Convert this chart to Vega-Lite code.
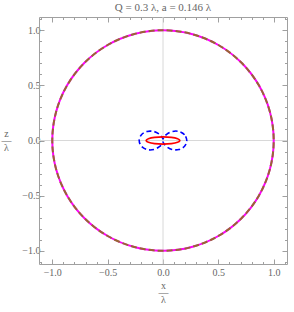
{
  "$schema": "https://vega.github.io/schema/vega-lite/v6.json",
  "width": 248,
  "height": 247,
  "autosize": {"type": "none"},
  "padding": {"left": 39, "top": 17, "right": 7, "bottom": 48},
  "title": {"text": "Q = 0.3 λ, a = 0.146 λ", "font": "Liberation Serif", "fontSize": 11, "fontWeight": "normal", "color": "#666666", "offset": 4},
  "config": {
    "view": {"stroke": null},
    "axis": {"labelFont": "Liberation Serif", "labelFontSize": 10, "labelColor": "#666666", "tickColor": "#a0a0a0", "domainColor": "#a0a0a0", "grid": false, "titleFont": "Liberation Serif", "titleFontSize": 10, "titleFontWeight": "normal", "titleColor": "#666666"}
  },
  "datasets": {
    "circle": [
      {"i": 0, "x": 1, "y": 0}, {"i": 1, "x": 0.9659, "y": 0.2588}, {"i": 2, "x": 0.866, "y": 0.5}, {"i": 3, "x": 0.7071, "y": 0.7071},
      {"i": 4, "x": 0.5, "y": 0.866}, {"i": 5, "x": 0.2588, "y": 0.9659}, {"i": 6, "x": 0, "y": 1}, {"i": 7, "x": -0.2588, "y": 0.9659},
      {"i": 8, "x": -0.5, "y": 0.866}, {"i": 9, "x": -0.7071, "y": 0.7071}, {"i": 10, "x": -0.866, "y": 0.5}, {"i": 11, "x": -0.9659, "y": 0.2588},
      {"i": 12, "x": -1, "y": 0}, {"i": 13, "x": -0.9659, "y": -0.2588}, {"i": 14, "x": -0.866, "y": -0.5}, {"i": 15, "x": -0.7071, "y": -0.7071},
      {"i": 16, "x": -0.5, "y": -0.866}, {"i": 17, "x": -0.2588, "y": -0.9659}, {"i": 18, "x": 0, "y": -1}, {"i": 19, "x": 0.2588, "y": -0.9659},
      {"i": 20, "x": 0.5, "y": -0.866}, {"i": 21, "x": 0.7071, "y": -0.7071}, {"i": 22, "x": 0.866, "y": -0.5}, {"i": 23, "x": 0.9659, "y": -0.2588}
    ],
    "peanut": [
      {"i": 0, "x": 0.215, "y": 0}, {"i": 1, "x": 0.1947, "y": 0.0522}, {"i": 2, "x": 0.1429, "y": 0.0825}, {"i": 3, "x": 0.0813, "y": 0.0813},
      {"i": 4, "x": 0.0325, "y": 0.0563}, {"i": 5, "x": 0.0074, "y": 0.0274}, {"i": 6, "x": 0, "y": 0.015}, {"i": 7, "x": -0.0074, "y": 0.0274},
      {"i": 8, "x": -0.0325, "y": 0.0563}, {"i": 9, "x": -0.0813, "y": 0.0813}, {"i": 10, "x": -0.1429, "y": 0.0825}, {"i": 11, "x": -0.1947, "y": 0.0522},
      {"i": 12, "x": -0.215, "y": 0}, {"i": 13, "x": -0.1947, "y": -0.0522}, {"i": 14, "x": -0.1429, "y": -0.0825}, {"i": 15, "x": -0.0813, "y": -0.0813},
      {"i": 16, "x": -0.0325, "y": -0.0563}, {"i": 17, "x": -0.0074, "y": -0.0274}, {"i": 18, "x": 0, "y": -0.015}, {"i": 19, "x": 0.0074, "y": -0.0274},
      {"i": 20, "x": 0.0325, "y": -0.0563}, {"i": 21, "x": 0.0813, "y": -0.0813}, {"i": 22, "x": 0.1429, "y": -0.0825}, {"i": 23, "x": 0.1947, "y": -0.0522}
    ],
    "ellipse": [
      {"i": 0, "x": 0.152, "y": 0}, {"i": 1, "x": 0.1316, "y": 0.016}, {"i": 2, "x": 0.076, "y": 0.0277}, {"i": 3, "x": 0, "y": 0.032},
      {"i": 4, "x": -0.076, "y": 0.0277}, {"i": 5, "x": -0.1316, "y": 0.016}, {"i": 6, "x": -0.152, "y": 0}, {"i": 7, "x": -0.1316, "y": -0.016},
      {"i": 8, "x": -0.076, "y": -0.0277}, {"i": 9, "x": 0, "y": -0.032}, {"i": 10, "x": 0.076, "y": -0.0277}, {"i": 11, "x": 0.1316, "y": -0.016}
    ],
    "zero": [{"v": 0}]
  },
  "resolve": {"axis": {"x": "independent", "y": "independent"}},
  "layer": [
    {
      "data": {"name": "zero"},
      "mark": {"type": "rule", "color": "#d8d8d8", "strokeWidth": 1},
      "encoding": {"x": {"field": "v", "type": "quantitative", "scale": {"domain": [-1.12, 1.12], "nice": false, "zero": false}, "axis": null}}
    },
    {
      "data": {"name": "zero"},
      "mark": {"type": "rule", "color": "#d8d8d8", "strokeWidth": 1},
      "encoding": {"y": {"field": "v", "type": "quantitative", "scale": {"domain": [-1.12, 1.12], "nice": false, "zero": false}, "axis": null}}
    },
    {
      "data": {"name": "circle"},
      "mark": {"type": "line", "interpolate": "cardinal-closed", "color": "#ff00ff", "strokeWidth": 2},
      "encoding": {
        "order": {"field": "i", "type": "quantitative"},
        "x": {"field": "x", "type": "quantitative", "scale": {"domain": [-1.12, 1.12], "nice": false, "zero": false},
          "axis": {"orient": "bottom", "values": [-1, -0.5, 0, 0.5, 1], "format": ".1f", "tickSize": -5, "labelPadding": 8, "title": ["x", "—", "λ"], "titleLineHeight": 7, "titlePadding": 3}},
        "y": {"field": "y", "type": "quantitative", "scale": {"domain": [-1.12, 1.12], "nice": false, "zero": false},
          "axis": {"orient": "left", "values": [-1, -0.5, 0, 0.5, 1], "format": ".1f", "tickSize": -5, "labelPadding": 4, "title": ["z", "—", "λ"], "titleAngle": 0, "titleLineHeight": 7, "titleBaseline": "middle", "titleAlign": "center", "titleX": -33, "titleY": 116}}
      }
    },
    {
      "data": {"name": "circle"},
      "mark": {"type": "line", "interpolate": "cardinal-closed", "color": "#996633", "strokeWidth": 2, "strokeDash": [6, 3]},
      "encoding": {
        "order": {"field": "i", "type": "quantitative"},
        "x": {"field": "x", "type": "quantitative", "scale": {"domain": [-1.12, 1.12], "nice": false, "zero": false},
          "axis": {"orient": "top", "values": [-1, -0.5, 0, 0.5, 1], "labels": false, "tickSize": -5, "title": null}},
        "y": {"field": "y", "type": "quantitative", "scale": {"domain": [-1.12, 1.12], "nice": false, "zero": false},
          "axis": {"orient": "right", "values": [-1, -0.5, 0, 0.5, 1], "labels": false, "tickSize": -5, "title": null}}
      }
    },
    {
      "data": {"name": "peanut"},
      "mark": {"type": "line", "interpolate": "cardinal-closed", "color": "#0000ff", "strokeWidth": 1.6, "strokeDash": [5, 3]},
      "encoding": {
        "order": {"field": "i", "type": "quantitative"},
        "x": {"field": "x", "type": "quantitative", "scale": {"domain": [-1.12, 1.12], "nice": false, "zero": false},
          "axis": {"orient": "bottom", "values": [-1.1, -0.9, -0.8, -0.7, -0.6, -0.4, -0.3, -0.2, -0.1, 0.1, 0.2, 0.3, 0.4, 0.6, 0.7, 0.8, 0.9, 1.1], "labels": false, "domain": false, "tickSize": -2.5, "title": null}},
        "y": {"field": "y", "type": "quantitative", "scale": {"domain": [-1.12, 1.12], "nice": false, "zero": false},
          "axis": {"orient": "left", "values": [-1.1, -0.9, -0.8, -0.7, -0.6, -0.4, -0.3, -0.2, -0.1, 0.1, 0.2, 0.3, 0.4, 0.6, 0.7, 0.8, 0.9, 1.1], "labels": false, "domain": false, "tickSize": -2.5, "title": null}}
      }
    },
    {
      "data": {"name": "ellipse"},
      "mark": {"type": "line", "interpolate": "cardinal-closed", "color": "#ff0000", "strokeWidth": 1.8},
      "encoding": {
        "order": {"field": "i", "type": "quantitative"},
        "x": {"field": "x", "type": "quantitative", "scale": {"domain": [-1.12, 1.12], "nice": false, "zero": false},
          "axis": {"orient": "top", "values": [-1.1, -0.9, -0.8, -0.7, -0.6, -0.4, -0.3, -0.2, -0.1, 0.1, 0.2, 0.3, 0.4, 0.6, 0.7, 0.8, 0.9, 1.1], "labels": false, "domain": false, "tickSize": -2.5, "title": null}},
        "y": {"field": "y", "type": "quantitative", "scale": {"domain": [-1.12, 1.12], "nice": false, "zero": false},
          "axis": {"orient": "right", "values": [-1.1, -0.9, -0.8, -0.7, -0.6, -0.4, -0.3, -0.2, -0.1, 0.1, 0.2, 0.3, 0.4, 0.6, 0.7, 0.8, 0.9, 1.1], "labels": false, "domain": false, "tickSize": -2.5, "title": null}}
      }
    }
  ]
}
